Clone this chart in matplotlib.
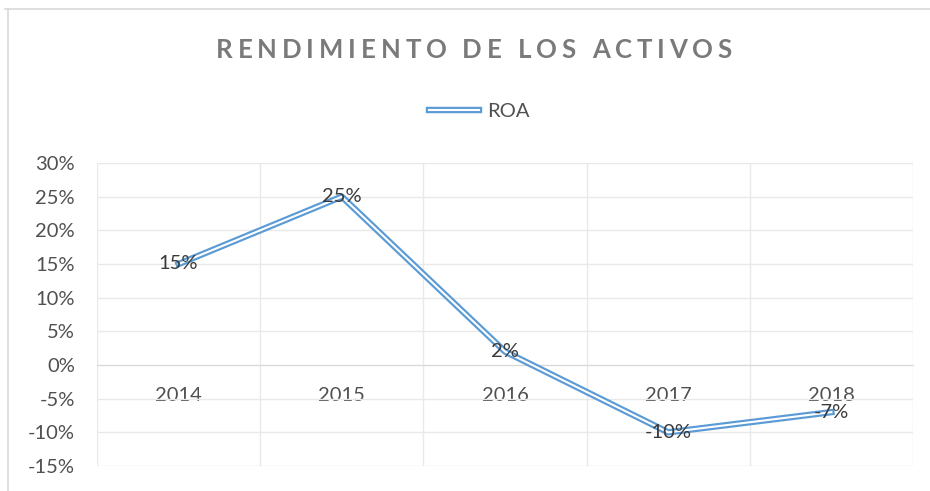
import numpy as np
import matplotlib
matplotlib.use('Agg')
import matplotlib.pyplot as plt
from matplotlib.lines import Line2D
from matplotlib.legend_handler import HandlerTuple

years = ['2014', '2015', '2016', '2017', '2018']
roa = [15, 25, 2, -10, -7]          # ROA in %
y_ticks = [-15, -10, -5, 0, 5, 10, 15, 20, 25, 30]
title = 'RENDIMIENTO DE LOS ACTIVOS'
series_name = 'ROA'

blue = '#5b9bd5'
label_gray = '#505050'
grid_gray = '#e9e9e9'
fs = 14.5

plt.rcParams['font.family'] = ['Lato', 'DejaVu Sans']

W, H = 930, 491
fig = plt.figure(figsize=(W / 100, H / 100), dpi=100)
ax = fig.add_axes([97 / W, 1 - 466 / H, (913 - 97) / W, (466 - 163) / H])

# double ("compound") line: thick blue with thin white core
x = np.arange(len(years))
ax.plot(x, roa, color=blue, lw=4.6, zorder=3)
ax.plot(x, roa, color='white', lw=1.5, zorder=4)

for xi, v in zip(x, roa):
    ax.text(xi, v, f'{v}%', ha='center', va='center', fontsize=fs,
            color='#3a3a3a', zorder=5)

ax.set_xlim(-0.5, len(years) - 0.5)
ax.set_ylim(-15, 30)
ax.set_yticks(y_ticks, [f'{v}%' for v in y_ticks])
ax.set_xticks(x, years)
ax.set_xticks(np.arange(len(years) + 1) - 0.5, minor=True)
ax.tick_params(axis='both', which='both', length=0, labelsize=fs, labelcolor=label_gray)
ax.tick_params(axis='y', pad=16)
ax.tick_params(axis='x', pad=16)

ax.grid(axis='y', which='major', color=grid_gray, lw=1)
ax.grid(axis='x', which='minor', color=grid_gray, lw=1)
ax.set_axisbelow(True)
for s in ['top', 'right', 'left']:
    ax.spines[s].set_visible(False)
ax.spines['bottom'].set_position(('data', 0))
ax.spines['bottom'].set_color('#d9d9d9')
ax.spines['bottom'].set_zorder(2)

# legend with double line sample
h1 = Line2D([], [], color=blue, lw=4.6)
h2 = Line2D([], [], color='white', lw=1.5)
fig.legend([(h1, h2)], [series_name], handler_map={tuple: HandlerTuple(ndivide=1)},
           loc='center', bbox_to_anchor=(479 / W, 1 - 111 / H), frameon=False,
           fontsize=fs, labelcolor=label_gray, handlelength=2.5, handletextpad=0.4)

# letter-spaced title, drawn char by char
fig.canvas.draw()
r = fig.canvas.get_renderer()
tkw = dict(fontsize=18.5, fontweight='bold', color='#7a7a7a')


def width_of(s):
    t = fig.text(0, 0, s, **tkw)
    w = t.get_window_extent(r).width
    t.remove()
    return w


space_w = width_of('x x') - width_of('xx')
widths = [space_w if ch == ' ' else width_of(ch) for ch in title]
track = (516 - sum(widths)) / (len(title) - 1)
cx = 216
for ch, w in zip(title, widths):
    if ch != ' ':
        fig.text(cx / W, 1 - 58 / H, ch, ha='left', va='baseline', **tkw)
    cx += w + track

# chart frame (top and left edges visible)
fig.add_artist(Line2D([5 / W, 1], [1 - 9 / H, 1 - 9 / H], color='#d9d9d9', lw=1.2))
fig.add_artist(Line2D([8 / W, 8 / W], [1 - 9 / H, 0], color='#d9d9d9', lw=1.2))

fig.savefig('out.png', dpi=100)
